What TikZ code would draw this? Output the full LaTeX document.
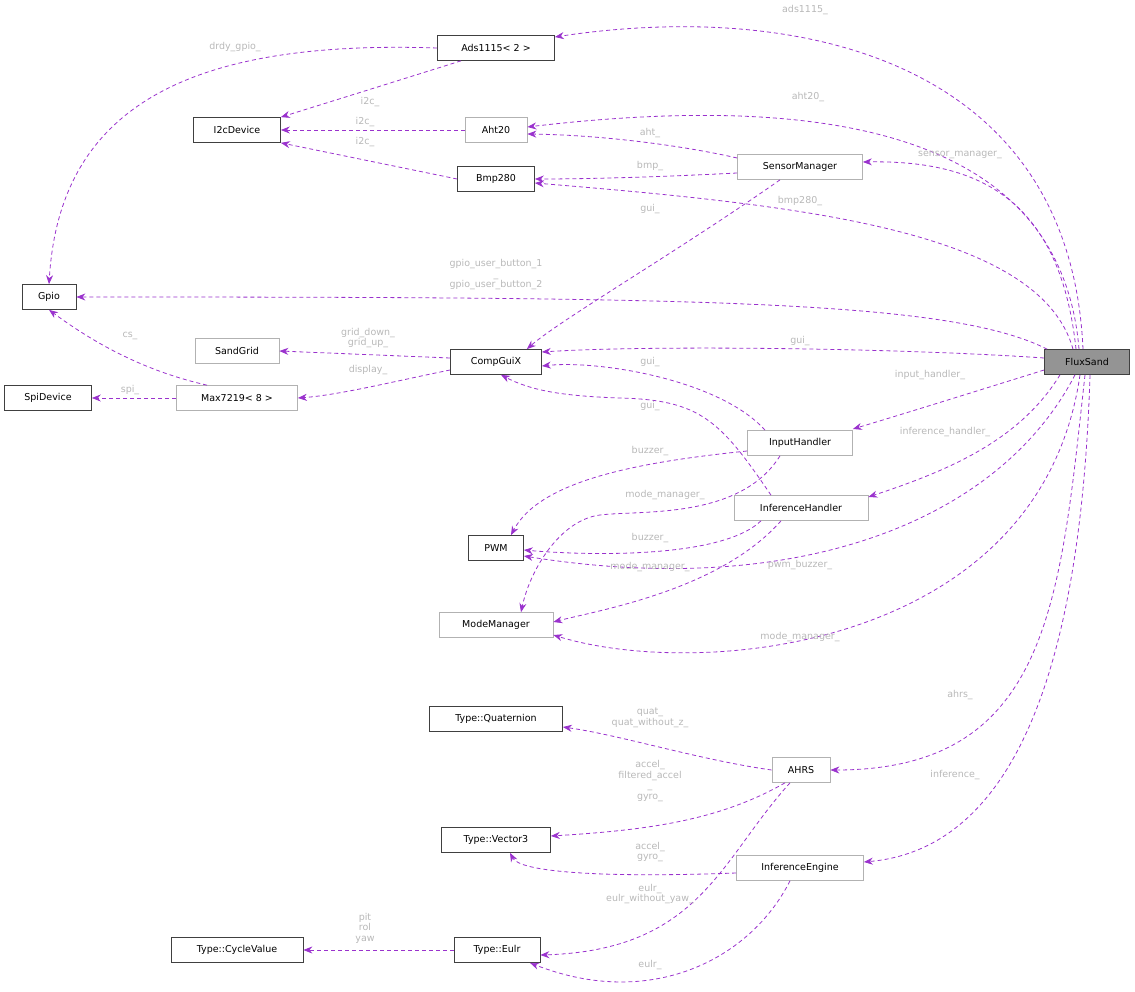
\documentclass[tikz,border=0pt]{standalone}
\usepackage{fontspec}
\setmainfont{DejaVu Sans}
\usetikzlibrary{arrows.meta,calc}
\definecolor{ec}{HTML}{9A32CD}
\definecolor{lc}{HTML}{B8B8B8}
\tikzset{
 bk/.style={draw=black!75,fill=white,font=\fontsize{9.5}{10}\selectfont,minimum height=25pt,inner xsep=6pt,line width=0.7pt},
 gr/.style={bk,draw=black!30},
 e/.style={draw=ec,dash pattern=on 4pt off 3pt,line width=0.8pt,-{Stealth[length=9pt,width=7pt]}},
 lb/.style={text=lc,font=\fontsize{9.5}{10.5}\selectfont,align=center,inner sep=0pt}
}
\begin{document}
\begin{tikzpicture}[x=1pt,y=-1pt]
\useasboundingbox (0,0) rectangle (1135,992);
\node[bk,fill=black!42,minimum width=85pt] (flux) at (1087,362) {FluxSand};
\node[bk,minimum width=117pt] (ads) at (496,48) {Ads1115< 2 >};
\node[bk,minimum width=87pt] (i2c) at (237,130) {I2cDevice};
\node[gr,minimum width=62pt] (aht) at (496,130) {Aht20};
\node[gr,minimum width=125pt] (sm) at (800,167) {SensorManager};
\node[bk,minimum width=77pt] (bmp) at (496,179) {Bmp280};
\node[bk,minimum width=54pt] (gpio) at (49,297) {Gpio};
\node[gr,minimum width=84pt] (sand) at (237,351) {SandGrid};
\node[bk,minimum width=91pt] (gui) at (496,362) {CompGuiX};
\node[bk,minimum width=87pt] (spi) at (48,398) {SpiDevice};
\node[gr,minimum width=121pt] (max) at (237,398) {Max7219< 8 >};
\node[gr,minimum width=105pt] (ih) at (800,443) {InputHandler};
\node[gr,minimum width=134pt] (inh) at (801,508) {InferenceHandler};
\node[bk,minimum width=55pt] (pwm) at (496,548) {PWM};
\node[gr,minimum width=114pt] (mm) at (496,625) {ModeManager};
\node[bk,minimum width=133pt] (quat) at (496,719) {Type::Quaternion};
\node[gr,minimum width=58pt] (ahrs) at (801,770) {AHRS};
\node[bk,minimum width=109pt] (vec) at (496,840) {Type::Vector3};
\node[gr,minimum width=127pt] (ie) at (800,868) {InferenceEngine};
\node[bk,minimum width=132pt] (cyc) at (237,950) {Type::CycleValue};
\node[bk,minimum width=86pt] (eulr) at (497,950) {Type::Eulr};

% FluxSand edges
\draw[e] ($(flux.north)+(-4,0)$) .. controls (1070,60) and (800,0) .. (ads.east|-0,37);
\draw[e] ($(flux.north)+(-8,0)$) .. controls (1060,120) and (800,95) .. (aht.east|-0,127);
\draw[e] ($(flux.north)+(-11,0)$) .. controls (1060,200) and (980,160) .. (sm.east|-0,162);
\draw[e] ($(flux.north)+(-14,0)$) .. controls (1040,230) and (800,205) .. (bmp.east|-0,183);
\draw[e] ($(flux.north west)+(3,0)$) .. controls (950,300) and (700,297) .. (gpio.east);
\draw[e] ($(flux.west)+(0,-4)$) .. controls (900,348) and (650,345) .. (gui.east|-0,352);
\draw[e] ($(flux.west)+(0,8)$) .. controls (980,390) and (900,415) .. (ih.east|-0,429);
\draw[e] ($(flux.south)+(-27,0)$) .. controls (1020,440) and (950,470) .. (inh.east|-0,497);
\draw[e] ($(flux.south)+(-12,0)$) .. controls (1000,520) and (800,600) .. (pwm.east|-0,556);
\draw[e] ($(flux.south)+(-7,0)$) .. controls (1040,650) and (700,680) .. (mm.east|-0,635);
\draw[e] ($(flux.south)+(-2,0)$) .. controls (1060,600) and (1050,770) .. (ahrs.east);
\draw[e] ($(flux.south)+(3,0)$) .. controls (1080,700) and (1000,850) .. (ie.east|-0,862);
\node[lb] at (805,10) {ads1115\_};
\node[lb] at (808,97) {aht20\_};
\node[lb] at (960,155) {sensor\_manager\_};
\node[lb] at (800,201) {bmp280\_};
\node[lb] at (496,275) {gpio\_user\_button\_1\\\_\\gpio\_user\_button\_2};
\node[lb] at (800,341) {gui\_};
\node[lb] at (930,375) {input\_handler\_};
\node[lb] at (945,432) {inference\_handler\_};
\node[lb] at (800,565) {pwm\_buzzer\_};
\node[lb] at (800,637) {mode\_manager\_};
\node[lb] at (960,695) {ahrs\_};
\node[lb] at (955,775) {inference\_};

% others
\draw[e] ($(ads.south)+(-35,0)$) .. controls (400,80) and (320,105) .. (i2c.north east);
\node[lb] at (370,102) {i2c\_};
\draw[e] (ads.west) .. controls (200,40) and (60,100) .. (gpio.north);
\node[lb] at (235,47) {drdy\_gpio\_};
\draw[e] (aht.west) -- (i2c.east);
\node[lb] at (365,122) {i2c\_};
\draw[e] (bmp.west) -- (i2c.south east);
\node[lb] at (365,142) {i2c\_};
\draw[e] (sm.west|-0,158) .. controls (680,145) and (600,135) .. (aht.east|-0,134);
\node[lb] at (650,133) {aht\_};
\draw[e] (sm.west|-0,173) .. controls (680,176) and (600,179) .. (bmp.east|-0,179);
\node[lb] at (650,166) {bmp\_};
\draw[e] ($(sm.south)+(-20,0)$) .. controls (680,250) and (560,320) .. ($(gui.north east)+(-15,0)$);
\node[lb] at (650,209) {gui\_};
\draw[e] (gui.west|-0,358) -- (sand.east);
\node[lb] at (368,338) {grid\_down\_\\grid\_up\_};
\draw[e] (gui.west|-0,370) .. controls (400,380) and (340,395) .. (max.east);
\node[lb] at (368,370) {display\_};
\draw[e] ($(max.north)+(-30,0)$) .. controls (140,370) and (90,340) .. (gpio.south);
\node[lb] at (130,336) {cs\_};
\draw[e] (max.west) -- (spi.east);
\node[lb] at (130,390) {spi\_};
\draw[e] ($(ih.north)+(-35,0)$) .. controls (720,380) and (600,360) .. (gui.east|-0,366);
\node[lb] at (650,362) {gui\_};
\draw[e] ($(inh.north)+(-30,0)$) .. controls (720,420) and (700,400) .. (620,398) .. controls (560,396) and (530,390) .. ($(gui.south)+(5,0)$);
\node[lb] at (650,406) {gui\_};
\draw[e] (ih.west|-0,451) .. controls (640,462) and (540,480) .. ($(pwm.north)+(15,0)$);
\node[lb] at (650,451) {buzzer\_};
\draw[e] ($(ih.south)+(-20,0)$) .. controls (740,520) and (640,510) .. (600,515) .. controls (560,520) and (530,570) .. ($(mm.north)+(25,0)$);
\node[lb] at (665,495) {mode\_manager\_};
\draw[e] ($(inh.south)+(-40,0)$) .. controls (720,560) and (580,555) .. (pwm.east|-0,550);
\node[lb] at (650,538) {buzzer\_};
\draw[e] ($(inh.south)+(-20,0)$) .. controls (720,590) and (600,610) .. (mm.east|-0,622);
\node[lb] at (650,567) {mode\_manager\_};
\draw[e] (ahrs.west) .. controls (700,760) and (620,735) .. (quat.east|-0,727);
\node[lb] at (650,718) {quat\_\\quat\_without\_z\_};
\draw[e] ($(ahrs.south)+(-16,0)$) .. controls (720,820) and (650,830) .. (vec.east|-0,836);
\node[lb] at (650,781) {accel\_\\filtered\_accel\\\_\\gyro\_};
\draw[e] ($(ahrs.south)+(-11,0)$) .. controls (720,860) and (700,950) .. (eulr.east|-0,955);
\node[lb] at (650,894) {eulr\_\\eulr\_without\_yaw\_};
\draw[e] (ie.west|-0,873) .. controls (600,878) and (520,872) .. ($(vec.south)+(14,0)$);
\node[lb] at (650,852) {accel\_\\gyro\_};
\draw[e] ($(ie.south)+(-10,0)$) .. controls (750,960) and (650,1010) .. ($(eulr.south)+(33,0)$);
\node[lb] at (650,965) {eulr\_};
\draw[e] (eulr.west) -- (cyc.east);
\node[lb] at (365,928) {pit\\rol\\yaw};
\end{tikzpicture}
\end{document}
